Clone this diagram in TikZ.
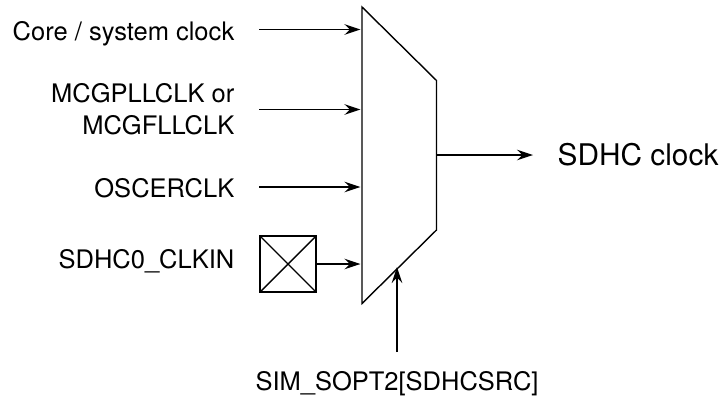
\documentclass[tikz,border=0pt]{standalone}
\usepackage{fontspec}
\setmainfont{TeX Gyre Heros}
\usetikzlibrary{arrows.meta}
\tikzset{
  wire/.style={line width=1.6pt,-{Stealth[length=16pt,width=10.5pt,inset=5.5pt]}},
  thinwire/.style={wire,line width=1.3pt},
  shapeline/.style={line width=1.4pt,line join=miter},
  lab/.style={font=\fontsize{25.5}{32}\selectfont,inner sep=0pt,align=right},
}
\begin{document}
\begin{tikzpicture}[x=1pt,y=-1pt]
\useasboundingbox (0,0) rectangle (722,397);
% mux corners
\coordinate (m1) at (362,7);
\coordinate (m2) at (436.5,80.5);
\coordinate (m3) at (436.5,230);
\coordinate (m4) at (362,303.5);
\draw[shapeline] (m1) -- (m2) -- (m3) -- (m4) -- cycle;
% targets on the mux
\coordinate (in1) at (360.5,29.5);
\coordinate (in2) at (360.5,109.5);
\coordinate (in3) at (360.5,187);
\coordinate (in4) at (360.5,264);
\coordinate (sel) at (397,267);
\coordinate (outp) at (436.5,155);
% free ends
\coordinate (s1) at (259,29.5);
\coordinate (s2) at (259,109.5);
\coordinate (s3) at (259,187);
\coordinate (selsrc) at (397,352);
\coordinate (oute) at (533,155);
% pad box
\node[draw,line width=1.5pt,minimum width=56pt,minimum height=56pt,inner sep=0pt,outer sep=0pt] (pad) at (288,264) {};
\draw[line width=1.4pt] (pad.north west) -- (pad.south east);
\draw[line width=1.4pt] (pad.south west) -- (pad.north east);
% labels
\node[lab,anchor=base east] (l1) at (234.5,40) {Core / system clock};
\node[lab,anchor=base east] (l2) at (234.5,134) {MCGPLLCLK or\\MCGFLLCLK};
\node[lab,anchor=base east] (l3) at (234.5,197.5) {OSCERCLK};
\node[lab,anchor=base east] (l4) at (234.5,268) {SDHC0\_CLKIN};
\node[lab,anchor=base] (l5) at (397,390) {SIM\_SOPT2[SDHCSRC]};
\node[lab,anchor=base west,font=\fontsize{29.8}{31}\selectfont] (l6) at (557.5,165) {SDHC clock};
% connectors
\draw[wire] (s1) -- (in1);
\draw[wire] (s2) -- (in2);
\draw[wire] (s3) -- (in3);
\draw[thinwire] (pad.east |- in4) -- (in4);
\draw[wire] (selsrc) -- (sel);
\draw[thinwire] (outp) -- (oute);
\end{tikzpicture}
\end{document}
